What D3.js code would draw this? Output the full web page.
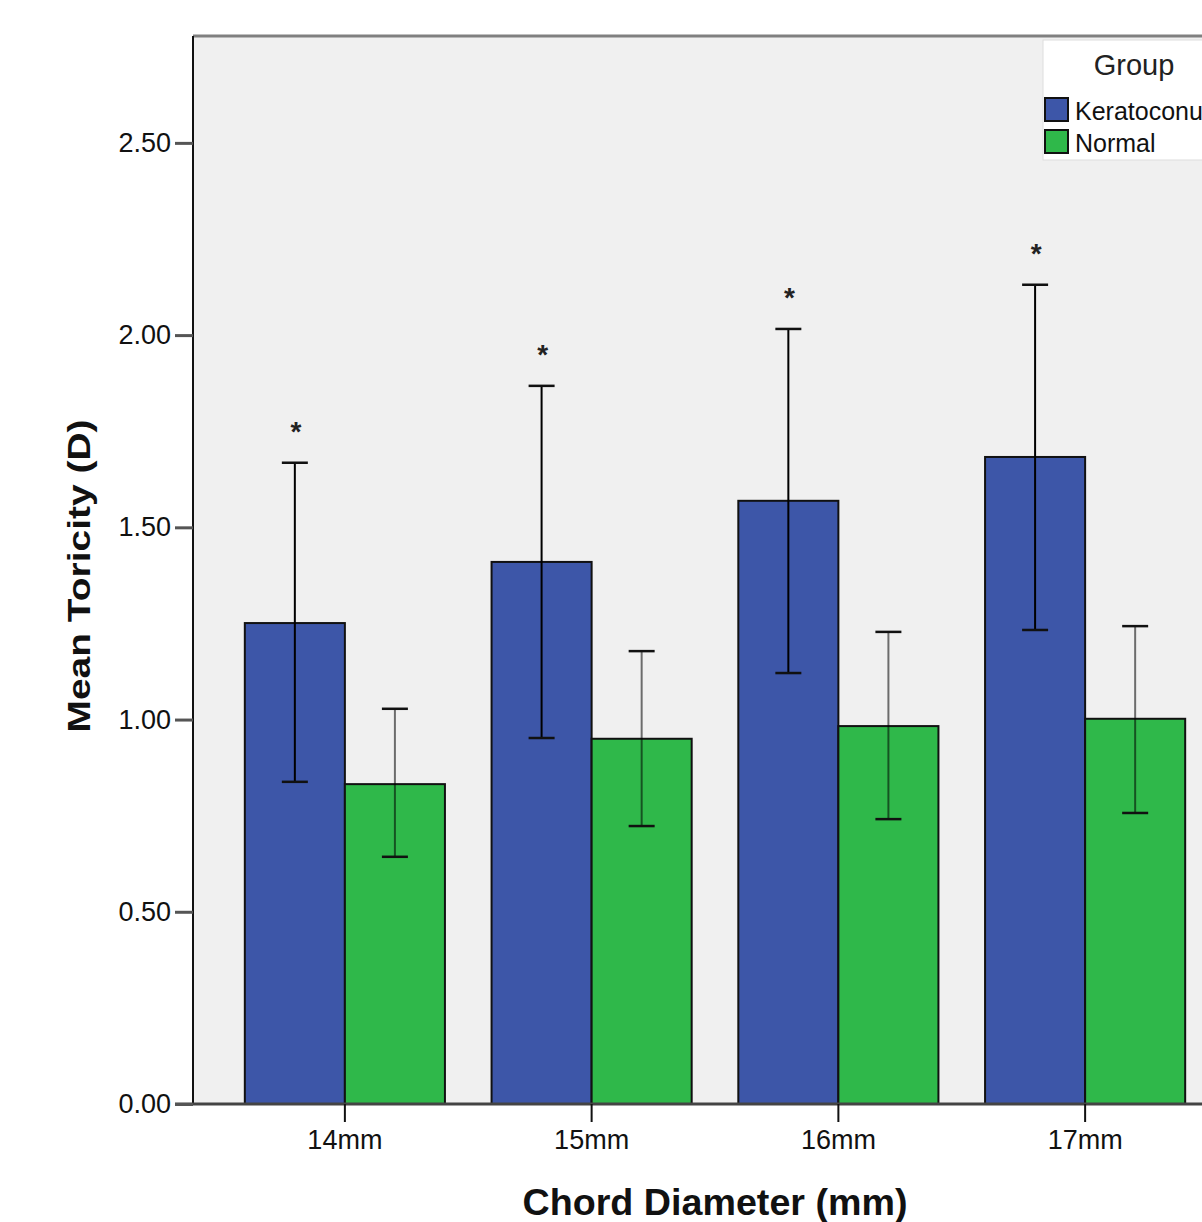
<!DOCTYPE html>
<html><head><meta charset="utf-8">
<script src="https://cdn.jsdelivr.net/npm/d3@7"></script>
<style>body{margin:0;background:#fff;}svg{display:block;font-family:"Liberation Sans",Arial,sans-serif;}</style>
</head><body>
<svg id="c" width="1202" height="1222"></svg>
<script>
const categories = ["14mm","15mm","16mm","17mm"];
const groups = ["Keratoconus","Normal"];
const keratoconusMean = [1.251, 1.410, 1.569, 1.683];
const keratoconusLow  = [0.838, 0.952, 1.121, 1.233];
const keratoconusHigh = [1.668, 1.868, 2.016, 2.131];
const normalMean = [0.832, 0.950, 0.983, 1.002];
const normalLow  = [0.643, 0.723, 0.741, 0.757];
const normalHigh = [1.028, 1.178, 1.228, 1.243];
const significant = [true, true, true, true];
const yTicks = [0, 0.5, 1.0, 1.5, 2.0, 2.5];
const colors = {Keratoconus:"#3d56a8", Normal:"#2fb84a"};

const svg = d3.select("#c");
const pLeft = 193, pTop = 36, pBottom = 1104, pRight = 1237;
const y = d3.scaleLinear().domain([0, 2.778]).range([pBottom, pTop]);
const x = d3.scaleBand().domain(categories).range([pLeft, pRight]).paddingInner(0.189).paddingOuter(0.21);
const xs = d3.scaleBand().domain(groups).range([0, x.bandwidth()]);
const FONT = "Liberation Sans, Arial, sans-serif";

svg.append("rect").attr("x", pLeft).attr("y", pTop).attr("width", pRight-pLeft).attr("height", pBottom-pTop).attr("fill", "#f0f0f0");

const data = [];
categories.forEach((c,i)=>{
  data.push({c, g:"Keratoconus", m:keratoconusMean[i], lo:keratoconusLow[i], hi:keratoconusHigh[i]});
  data.push({c, g:"Normal", m:normalMean[i], lo:normalLow[i], hi:normalHigh[i]});
});

svg.append("g").selectAll("rect").data(data).join("rect")
  .attr("x", d=>x(d.c)+xs(d.g)).attr("width", xs.bandwidth())
  .attr("y", d=>y(d.m)).attr("height", d=>y(0)-y(d.m))
  .attr("fill", d=>colors[d.g]).attr("stroke", "#111").attr("stroke-width", 2);

const eb = svg.append("g");
data.forEach(d=>{
  const cx = x(d.c)+xs(d.g)+xs.bandwidth()/2;
  const op = d.g==="Normal" ? 0.55 : 1;
  eb.append("line").attr("x1",cx).attr("x2",cx).attr("y1",y(d.lo)).attr("y2",y(d.hi)).attr("stroke","#000").attr("stroke-width",2).attr("stroke-opacity",op);
  [d.lo,d.hi].forEach(v=>eb.append("line").attr("x1",cx-13).attr("x2",cx+13).attr("y1",y(v)).attr("y2",y(v)).attr("stroke","#111").attr("stroke-width",2.5));
});

categories.forEach((c,i)=>{
  if(!significant[i]) return;
  const cx = x(c)+xs("Keratoconus")+xs.bandwidth()/2;
  svg.append("text").attr("x", cx+1).attr("y", y(keratoconusHigh[i])-22).attr("text-anchor","middle")
    .attr("font-size", 28).attr("font-weight","bold").attr("fill","#222").attr("font-family",FONT).text("*");
});

svg.append("line").attr("x1",pLeft).attr("x2",pRight).attr("y1",pTop).attr("y2",pTop).attr("stroke","#808080").attr("stroke-width",3);
svg.append("line").attr("x1",pLeft).attr("x2",pLeft).attr("y1",pTop).attr("y2",pBottom).attr("stroke","#111").attr("stroke-width",2);
svg.append("line").attr("x1",175).attr("x2",pRight).attr("y1",pBottom).attr("y2",pBottom).attr("stroke","#444").attr("stroke-width",3);

const yAxis = svg.append("g").attr("transform",`translate(${pLeft},0)`)
  .call(d3.axisLeft(y).tickValues(yTicks).tickFormat(d3.format(".2f")).tickSize(18).tickPadding(4));
yAxis.select(".domain").remove();
yAxis.selectAll(".tick line").attr("stroke","#555").attr("stroke-width",3);
yAxis.selectAll(".tick text").attr("font-size",27).attr("fill","#111").attr("font-family",FONT);

const xAxis = svg.append("g").attr("transform",`translate(0,${pBottom})`)
  .call(d3.axisBottom(x).tickSize(18).tickPadding(8));
xAxis.select(".domain").remove();
xAxis.selectAll(".tick line").attr("stroke","#111").attr("stroke-width",2);
xAxis.selectAll(".tick text").attr("font-size",27).attr("fill","#111").attr("font-family",FONT);

svg.append("text").attr("x",715).attr("y",1215).attr("text-anchor","middle").attr("font-size",36).attr("font-weight","bold").attr("fill","#111").attr("font-family",FONT)
  .attr("textLength",385).attr("lengthAdjust","spacingAndGlyphs").text("Chord Diameter (mm)");
svg.append("text").attr("transform","translate(90,576) rotate(-90)").attr("text-anchor","middle").attr("font-size",32).attr("font-weight","bold").attr("fill","#111").attr("font-family",FONT)
  .attr("textLength",313).attr("lengthAdjust","spacingAndGlyphs").text("Mean Toricity (D)");

const lg = svg.append("g");
lg.append("rect").attr("x",1043).attr("y",40).attr("width",200).attr("height",120).attr("fill","#fff").attr("stroke","#ddd").attr("stroke-width",1);
lg.append("text").attr("x",1134).attr("y",75).attr("text-anchor","middle").attr("font-size",29).attr("fill","#222").attr("font-family",FONT).text("Group");
groups.forEach((g,i)=>{
  lg.append("rect").attr("x",1045).attr("y",98+i*32).attr("width",23).attr("height",23).attr("fill",colors[g]).attr("stroke","#111").attr("stroke-width",2);
  lg.append("text").attr("x",1075).attr("y",120+i*32).attr("font-size",25).attr("fill","#111").attr("font-family",FONT).text(g);
});
</script>
</body></html>
